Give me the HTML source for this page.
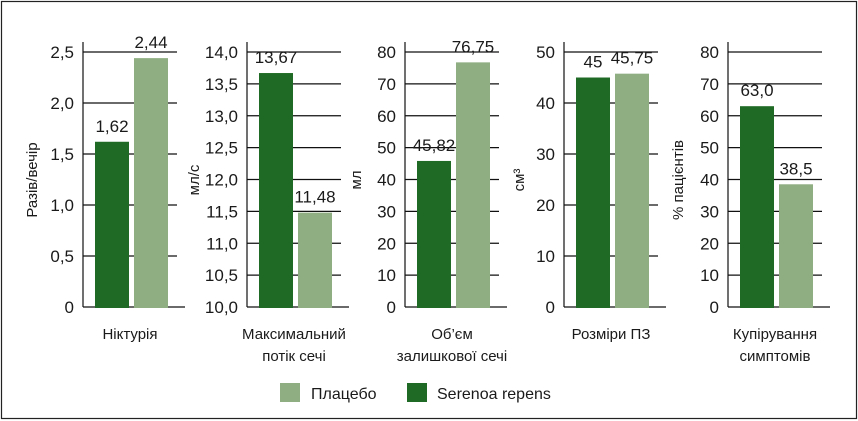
<!DOCTYPE html>
<html><head><meta charset="utf-8"><style>
html,body{margin:0;padding:0;background:#fff}
svg{display:block;font-family:"Liberation Sans","DejaVu Sans",sans-serif}
</style></head><body>
<svg width="858" height="421" viewBox="0 0 858 421" id="chart">
<rect x="1.5" y="1.5" width="855" height="417" fill="none" stroke="#222" stroke-width="1.2"/>
<g id="panels"></g>
<g>
<rect x="280" y="383" width="20" height="19" fill="#8fae82"/>
<text x="311" y="399" font-size="16" fill="#1a1a1a">Плацебо</text>
<rect x="407" y="383" width="20" height="19" fill="#1f6b25"/>
<text x="437" y="399" font-size="16" fill="#1a1a1a">Serenoa repens</text>
</g>
</svg>
<script>
const categories = [["Ніктурія"],["Максимальний","потік сечі"],["Об’єм","залишкової сечі"],["Розміри ПЗ"],["Купірування","симптомів"]];
const serenoaValues = [1.62, 13.67, 45.82, 45, 63.0];
const placeboValues = [2.44, 11.48, 76.75, 45.75, 38.5];
const serenoaLabels = ["1,62","13,67","45,82","45","63,0"];
const placeboLabels = ["2,44","11,48","76,75","45,75","38,5"];
const axisMin = [0, 10, 0, 0, 0];
const axisMax = [2.5, 14, 80, 50, 80];
const tickLabels = [
 ["0","0,5","1,0","1,5","2,0","2,5"],
 ["10,0","10,5","11,0","11,5","12,0","12,5","13,0","13,5","14,0"],
 ["0","10","20","30","40","50","60","70","80"],
 ["0","10","20","30","40","50"],
 ["0","10","20","30","40","50","60","70","80"]
];
const yTitles = ["Разів/вечір","мл/с","мл","см³","% пацієнтів"];

const axisX = [83, 247, 405, 564, 728];
const titleX = [37, 199, 361, 524, 683];
const NS = "http://www.w3.org/2000/svg";
const g = document.getElementById("panels");
const Y0 = 307, Y1 = 52;
function mk(tag, attrs, parent){const e=document.createElementNS(NS,tag);for(const k in attrs)e.setAttribute(k,attrs[k]);parent.appendChild(e);return e;}
categories.forEach((cat,i)=>{
  const ax = axisX[i];
  const yScale = v => Y0 - (v-axisMin[i])/(axisMax[i]-axisMin[i])*(Y0-Y1);
  const pg = mk("g",{},g);
  
  
  const n = tickLabels[i].length;
  tickLabels[i].forEach((t,k)=>{
    const y = Y0 - k*(Y0-Y1)/(n-1);
    if(k>0){
      const ln = mk("line",{x1:ax,x2:ax+94,y1:y,y2:y,stroke:"#111","stroke-width":1.2},pg);
      
      
    }
    const tx = mk("text",{x:ax-9,y:y+6,"font-size":17,"text-anchor":"end",fill:"#1a1a1a"},pg);
    tx.textContent = t;
    
    
  });
  const ya = mk("line",{x1:ax,x2:ax,y1:42,y2:Y0,stroke:"#111","stroke-width":1.2},pg);
  
  
  const xa = mk("line",{x1:ax,x2:ax+102,y1:Y0,y2:Y0,stroke:"#111","stroke-width":1.2},pg);
  
  
  const bars = [[serenoaValues[i],"#1f6b25",ax+12,serenoaLabels[i],"bar-serenoa"],[placeboValues[i],"#8fae82",ax+51,placeboLabels[i],"bar-placebo"]];
  bars.forEach(b=>{
    const top = yScale(b[0]);
    const r = mk("rect",{x:b[2],y:top,width:34,height:Y0+1-top,fill:b[1]},pg);
    
    
    const lt = mk("text",{x:b[2]+17,y:Math.max(top-10,40),"font-size":17,"text-anchor":"middle",fill:"#1a1a1a"},pg);
    lt.textContent = b[3];
    
    
  });
  cat.forEach((line,k)=>{
    const ct = mk("text",{x:ax+47,y:339+k*22,"font-size":15,"text-anchor":"middle",fill:"#1a1a1a"},pg);
    ct.textContent = line;
    
    
  });
  const tt = mk("text",{x:0,y:0,"font-size":15,"text-anchor":"middle",fill:"#1a1a1a",transform:`translate(${titleX[i]},180) rotate(-90)`},pg);
  tt.textContent = yTitles[i];
  
  
});
</script>
</body></html>
